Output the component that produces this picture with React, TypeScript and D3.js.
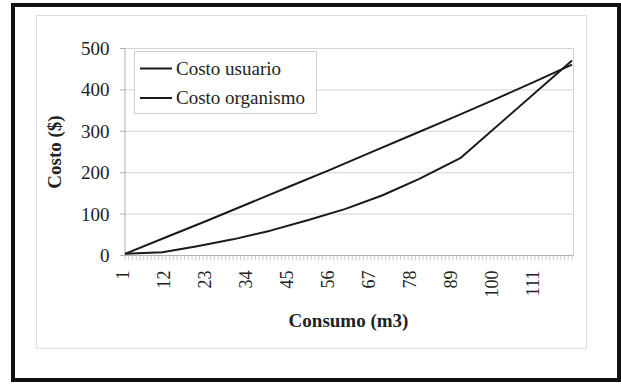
import React from "react";
import * as d3 from "d3";

// Data
const usuarioConsumo = [1, 12, 23, 34, 45, 56, 67, 78, 89, 100, 111, 121];
const usuarioCosto = [4, 44, 84, 125, 166, 207, 249, 291, 333, 376, 420, 461];
const organismoConsumo = [1, 11, 20, 30, 40, 50, 60, 70, 80, 91, 121];
const organismoCosto = [4, 8, 22, 39, 60, 85, 112, 145, 185, 235, 471];
const xTickLabels = [1, 12, 23, 34, 45, 56, 67, 78, 89, 100, 111];
const yTickValues = [0, 100, 200, 300, 400, 500];
const categoryCount = 121;
const seriesNames = ["Costo usuario", "Costo organismo"];

const FONT = '"Liberation Serif", "Times New Roman", serif';

export default function App() {
  const left = 125;
  const right = 572;
  const top = 48.5;
  const bottom = 255.5;

  const x = d3.scaleLinear().domain([1, categoryCount]).range([left, right]);
  const y = d3.scaleLinear().domain([0, 500]).range([bottom, top]);

  const line = d3
    .line<[number, number]>()
    .x((d) => x(d[0]))
    .y((d) => y(d[1]));

  const usuario = usuarioConsumo.map((c, i) => [c, usuarioCosto[i]] as [number, number]);
  const organismo = organismoConsumo.map((c, i) => [c, organismoCosto[i]] as [number, number]);

  const cats = d3.range(1, categoryCount + 1);

  return (
    <svg
      width={621}
      height={385}
      style={{ position: "absolute", left: 0, top: 0, background: "#fff" }}
    >
      <rect x={0} y={0} width={621} height={385} fill="#fff" />
      {/* chart area border */}
      <rect x={36.5} y={15.5} width={550} height={333} fill="none" stroke="#dcdcdc" strokeWidth={1} />

      {/* gridlines */}
      {yTickValues.slice(1).map((v) => (
        <line key={"g" + v} x1={left} x2={right + 1.5} y1={y(v)} y2={y(v)} stroke="#d4d4d4" strokeWidth={1} />
      ))}
      {/* plot right border */}
      <line x1={right + 1.5} x2={right + 1.5} y1={top} y2={bottom} stroke="#d4d4d4" strokeWidth={1} />

      {/* y axis */}
      <line x1={left} x2={left} y1={top} y2={bottom} stroke="#b0b0b0" strokeWidth={1} />
      {yTickValues.map((v) => (
        <g key={"yt" + v}>
          <line x1={left - 5} x2={left} y1={y(v)} y2={y(v)} stroke="#b0b0b0" strokeWidth={1} />
          <text x={109.5} y={y(v) + 6.5} textAnchor="end" fontFamily={FONT} fontSize={19} fill="#222">
            {v}
          </text>
        </g>
      ))}

      {/* x axis */}
      <line x1={left} x2={right + 1.5} y1={bottom} y2={bottom} stroke="#b0b0b0" strokeWidth={1} />
      {cats.map((c) => (
        <line key={"xt" + c} x1={x(c)} x2={x(c)} y1={bottom} y2={bottom + 5} stroke="#c0c0c0" strokeWidth={0.8} />
      ))}
      {xTickLabels.map((v) => (
        <text
          key={"xl" + v}
          transform={`translate(${x(v) + 4},${270.5}) rotate(-90)`}
          textAnchor="end"
          fontFamily={FONT}
          fontSize={18}
          fill="#222"
        >
          {v}
        </text>
      ))}

      {/* axis titles */}
      <text
        transform={`translate(61,${(top + bottom) / 2}) rotate(-90)`}
        textAnchor="middle"
        fontFamily={FONT}
        fontWeight="bold"
        fontSize={19}
        fill="#222"
      >
        Costo ($)
      </text>
      <text
        x={(left + right) / 2}
        y={326.5}
        textAnchor="middle"
        fontFamily={FONT}
        fontWeight="bold"
        fontSize={19}
        fill="#222"
      >
        Consumo (m3)
      </text>

      {/* series */}
      <path d={line(usuario) || ""} fill="none" stroke="#1a1a1a" strokeWidth={2} strokeLinejoin="round" />
      <path d={line(organismo) || ""} fill="none" stroke="#1a1a1a" strokeWidth={2} strokeLinejoin="round" />

      {/* legend */}
      <rect x={134.5} y={51.5} width={182} height={62} fill="#fff" stroke="#cfcfcf" strokeWidth={1} />
      {seriesNames.map((name, i) => (
        <g key={name}>
          <line x1={140} x2={172} y1={68.5 + i * 29.5} y2={68.5 + i * 29.5} stroke="#1a1a1a" strokeWidth={2} />
          <text x={176} y={74.5 + i * 29.5} fontFamily={FONT} fontSize={19} fill="#222">
            {name}
          </text>
        </g>
      ))}

      {/* outer frame */}
      <rect x={13} y={5} width={606} height={375} fill="none" stroke="#111" strokeWidth={4} />
    </svg>
  );
}
